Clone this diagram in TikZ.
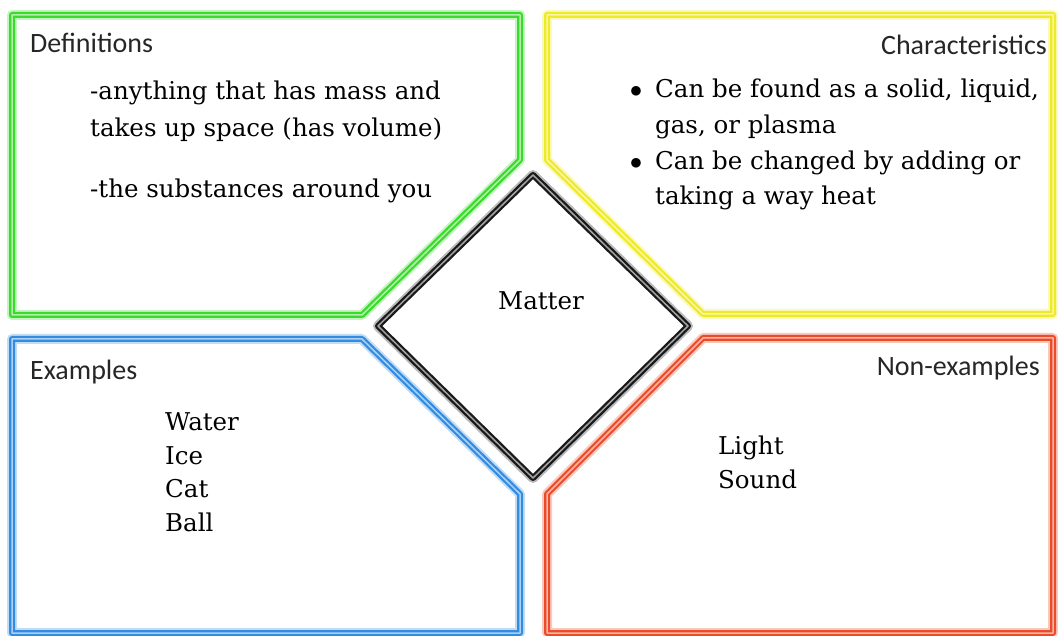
\documentclass[tikz,border=0pt]{standalone}
\usepackage{fontspec}
\setmainfont{DejaVu Serif}
\newfontfamily\headfont{Carlito}
\definecolor{cgreen}{RGB}{60,218,45}
\definecolor{cyellow}{RGB}{238,234,40}
\definecolor{cblue}{RGB}{50,140,225}
\definecolor{cred}{RGB}{235,75,40}
\definecolor{cdark}{RGB}{25,25,25}
\tikzset{
  panel/.style={draw=#1, line width=6pt, line join=round,
    preaction={draw=#1!30, line width=10pt, line join=round},
    postaction={draw=#1!40!white, line width=1.5pt, line join=round}},
  head/.style={inner sep=0pt, font=\headfont\fontsize{28}{32}\selectfont, text=black!85},
  body/.style={inner sep=0pt, anchor=base west, font=\fontsize{24.5}{30}\selectfont, text=black},
}
\begin{document}
\begin{tikzpicture}[x=1pt,y=-1pt]
\useasboundingbox (0,0) rectangle (1058,636);
\begin{scope}
\clip (0,0) rectangle (1058,636);
% four coloured panels
\draw[panel=cgreen] (12,15) -- (520,15) -- (520,160) -- (362,315) -- (12,315) -- cycle;
\draw[panel=cyellow] (547,15) -- (1053,15) -- (1053,314) -- (703,314) -- (547,160) -- cycle;
\draw[panel=cblue] (12,339) -- (362,339) -- (520,494) -- (520,633) -- (12,633) -- cycle;
\draw[panel=cred] (703,338) -- (1053,338) -- (1053,633) -- (547,633) -- (547,494) -- cycle;
% central diamond
\draw[panel=cdark, fill=white] (533,175) -- (688,326) -- (533,478) -- (378,326) -- cycle;
\end{scope}
% headings
\node[head, anchor=base west] (defh) at (30,53) {Definitions};
\node[head, anchor=base east] (charh) at (1047,55) {Characteristics};
\node[head, anchor=base west] (exh) at (30,380) {Examples};
\node[head, anchor=base east] (nonh) at (1040,376) {Non-examples};
% definitions
\node[body] (d1) at (90,100) {-anything that has mass and};
\node[body] (d2) at (90,137) {takes up space (has volume)};
\node[body] (d3) at (90,198) {-the substances around you};
% characteristics
\node[body, anchor=base] (b1) at (636,98) {$\bullet$};
\node[body] (c1) at (655,98) {Can be found as a solid, liquid,};
\node[body] (c2) at (655,134) {gas, or plasma};
\node[body, anchor=base] (b2) at (636,170) {$\bullet$};
\node[body] (c3) at (655,170) {Can be changed by adding or};
\node[body] (c4) at (655,205) {taking a way heat};
% centre
\node[body, anchor=base] (matter) at (541,310) {Matter};
% examples
\node[body] (e1) at (165,430) {Water};
\node[body] (e2) at (165,464) {Ice};
\node[body] (e3) at (165,497) {Cat};
\node[body] (e4) at (165,531) {Ball};
% non-examples
\node[body] (n1) at (718,454) {Light};
\node[body] (n2) at (718,488) {Sound};
\end{tikzpicture}
\end{document}
